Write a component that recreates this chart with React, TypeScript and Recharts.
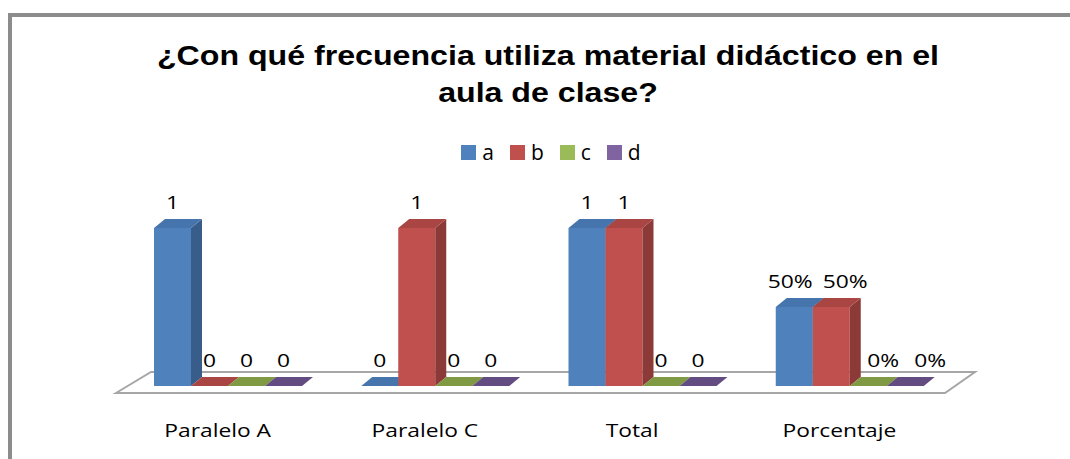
import React from 'react';
import { BarChart, Bar, XAxis, YAxis, LabelList, ReferenceLine } from 'recharts';

const categories = ['Paralelo A', 'Paralelo C', 'Total', 'Porcentaje'];
const seriesA = [1, 0, 1, 0.5];
const seriesB = [0, 1, 1, 0.5];
const seriesC = [0, 0, 0, 0];
const seriesD = [0, 0, 0, 0];
const percentRow = [false, false, false, true];

// pctShift: Excel nudged the crowded percent labels sideways
const SERIES = [
  { key: 'a', values: seriesA, front: '#4F81BD', side: '#385D8A', top: '#4675AE', pctShift: -4 },
  { key: 'b', values: seriesB, front: '#C0504D', side: '#8C3A38', top: '#A94542', pctShift: 14 },
  { key: 'c', values: seriesC, front: '#9BBB59', side: '#71893F', top: '#7F9A43', pctShift: 15 },
  { key: 'd', values: seriesD, front: '#8064A2', side: '#5C4876', top: '#634C82', pctShift: 25 },
];

const fmt = (v: number, pct: boolean) => (pct ? `${Math.round(v * 100)}%` : `${v}`);

const data = categories.map((name, i) => {
  const row: Record<string, any> = { name };
  SERIES.forEach((s) => {
    row[s.key] = s.values[i];
    row[`${s.key}Label`] = fmt(s.values[i], percentRow[i]);
  });
  return row;
});

// the original picture is stretched sideways, so text is widened a bit
const STRETCH = 1.2;
const DX = 11;
const DY = 9;

const Box3D = (props: any) => {
  const { x, y, width, height, colors } = props;
  if (x == null || y == null) return null;
  const h = Math.max(0, height || 0);
  const r = x + width;
  return (
    <g>
      {h > 0 && <rect x={x} y={y} width={width} height={h} fill={colors.front} />}
      {h > 0 && (
        <polygon
          points={`${r},${y} ${r + DX},${y - DY} ${r + DX},${y + h - DY} ${r},${y + h}`}
          fill={colors.side}
        />
      )}
      <polygon
        points={`${x},${y} ${x + DX},${y - DY} ${r + DX},${y - DY} ${r},${y}`}
        fill={colors.top}
      />
    </g>
  );
};

const Floor = (props: any) => {
  const { x1, x2, y1 } = props;
  if (x1 == null) return null;
  const pts = [
    [x1 - 8, y1 + 7],
    [x1 + 27, y1 - 14],
    [x2 + 22, y1 - 14],
    [x2 - 8, y1 + 7],
  ]
    .map((p) => p.join(','))
    .join(' ');
  return <polygon points={pts} fill="#fff" stroke="#a6a6a6" strokeWidth={2} />;
};

const WideText = ({ x, y, children }: any) => (
  <text
    transform={`translate(${x} ${y}) scale(${STRETCH} 1)`}
    textAnchor="middle"
    fontFamily="'Open Sans', sans-serif"
    fontSize={19}
    fill="#000"
  >
    {children}
  </text>
);

const ValueLabel = (props: any) => {
  const { x, y, width, value, shift } = props;
  const dx = String(value).endsWith('%') ? shift : 0;
  return <WideText x={x + width / 2 + dx} y={y - 19}>{value}</WideText>;
};

const CategoryTick = (props: any) => {
  const { x, y, payload } = props;
  return <WideText x={x - 10} y={y + 51}>{payload.value}</WideText>;
};

export default function App() {
  return (
    <div style={{ position: 'absolute', left: 0, top: 0, width: 1070, height: 459, overflow: 'hidden', background: '#fff' }}>
      <div
        style={{
          position: 'absolute',
          left: 8,
          top: 13,
          width: 1200,
          height: 600,
          border: '4px solid #8c8c8c',
        }}
      />
      <div
        style={{
          position: 'absolute',
          left: 0,
          top: 38,
          width: 1096,
          textAlign: 'center',
          fontFamily: "'Liberation Sans', Arial, sans-serif",
          fontWeight: 'bold',
          fontSize: 27,
          lineHeight: '37px',
          color: '#000',
          transform: 'scaleX(1.19)',
        }}
      >
        ¿Con qué frecuencia utiliza material didáctico en el
        <br />
        aula de clase?
      </div>
      <div
        style={{
          position: 'absolute',
          left: 0,
          top: 139,
          width: 1102,
          display: 'flex',
          justifyContent: 'center',
          fontFamily: "'Open Sans', sans-serif",
          fontSize: 21,
          lineHeight: '26px',
        }}
      >
        {SERIES.map((s) => (
          <div key={s.key} style={{ display: 'flex', alignItems: 'center', margin: '0 8px' }}>
            <span style={{ width: 15, height: 15, background: s.front, marginRight: 6, display: 'inline-block' }} />
            <span>{s.key}</span>
          </div>
        ))}
      </div>
      <div style={{ position: 'absolute', left: 0, top: 0 }}>
        <BarChart
          width={1070}
          height={459}
          data={data}
          margin={{ top: 228, right: 117, bottom: 0, left: 124 }}
          barGap={0}
          barSize={37}
        >
          <ReferenceLine y={0} shape={<Floor />} zIndex={-50} ifOverflow="visible" />
          <XAxis
            dataKey="name"
            axisLine={false}
            tickLine={false}
            tickSize={0}
            tickMargin={0}
            height={73}
            interval={0}
            tick={<CategoryTick />}
          />
          <YAxis hide domain={[0, 1]} />
          {SERIES.map((s) => (
            <Bar
              key={s.key}
              dataKey={s.key}
              isAnimationActive={false}
              shape={(p: any) => <Box3D {...p} colors={s} />}
            >
              <LabelList
                dataKey={`${s.key}Label`}
                content={(p: any) => <ValueLabel {...p} shift={s.pctShift} />}
              />
            </Bar>
          ))}
        </BarChart>
      </div>
    </div>
  );
}
